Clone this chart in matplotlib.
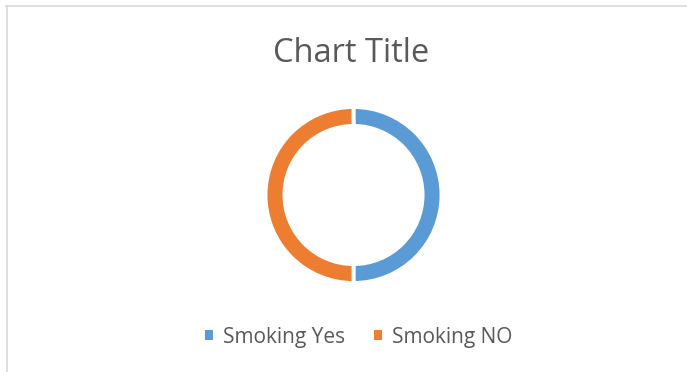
import matplotlib.pyplot as plt
from matplotlib.patches import Patch
from matplotlib.lines import Line2D

# data
labels = ['Smoking Yes', 'Smoking NO']
values = [50, 50]
colors = ['#5B9BD5', '#ED7D31']
title = 'Chart Title'

plt.rcParams['font.family'] = ['Open Sans', 'DejaVu Sans']

W, H = 687, 372
fig = plt.figure(figsize=(W / 100, H / 100), dpi=100)

# chart border (top and left only visible)
fig.add_artist(Line2D([6 / W, 1], [1 - 6 / H, 1 - 6 / H], color='#d9d9d9', lw=1.2))
fig.add_artist(Line2D([7 / W, 7 / W], [0, 1 - 6 / H], color='#d9d9d9', lw=1.2))

# donut
cx, cy, r = 353.5, 195, 88
ax = fig.add_axes([(cx - r) / W, 1 - (cy + r) / H, 2 * r / W, 2 * r / H])
ax.pie(values, colors=colors, startangle=90, counterclock=False,
       wedgeprops=dict(width=0.215, edgecolor='white', linewidth=2.8))
ax.set_xlim(-1, 1)
ax.set_ylim(-1, 1)
ax.set_aspect('equal')

fig.text(351 / W, 1 - 62 / H, title, ha='center', va='baseline',
         fontsize=23.5, color='#595959')

handles = [Patch(facecolor=c, edgecolor='none') for c in colors]
fig.legend(handles, labels, loc='center', bbox_to_anchor=(358.5 / W, 1 - 337 / H),
           ncol=2, frameon=False, fontsize=15, labelcolor='#595959',
           handlelength=0.4, handleheight=0.4, handletextpad=0.45, columnspacing=1.4,
           borderpad=0, borderaxespad=0)

plt.savefig('out.png', dpi=100)
